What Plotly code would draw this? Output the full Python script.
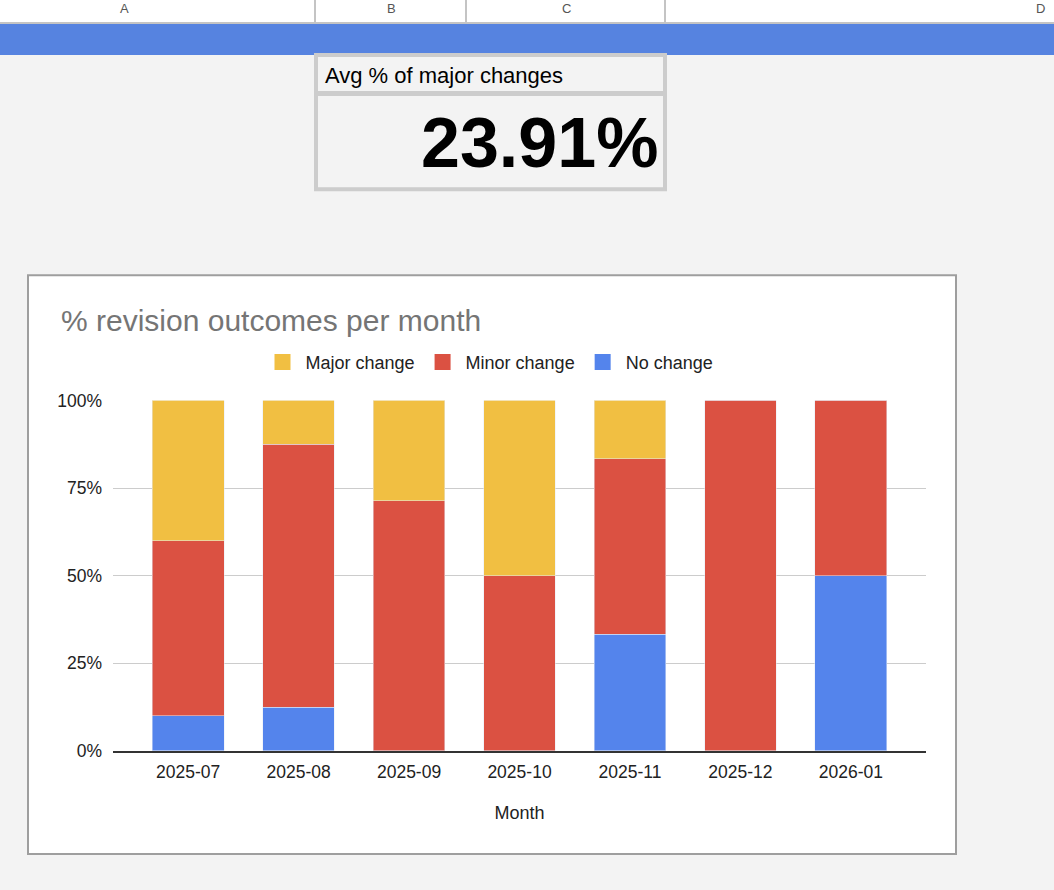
import plotly.graph_objects as go

# data
months = ['2025-07', '2025-08', '2025-09', '2025-10', '2025-11', '2025-12', '2026-01']
no_change = [0.10, 0.125, 0.0, 0.0, 0.3333, 0.0, 0.50]
minor_change = [0.50, 0.75, 0.7143, 0.50, 0.50, 1.0, 0.50]
major_change = [0.40, 0.125, 0.2857, 0.50, 0.1667, 0.0, 0.0]
y_ticks = [0, 0.25, 0.5, 0.75, 1.0]
kpi_label = 'Avg % of major changes'
kpi_value = '23.91%'
col_letters = ['A', 'B', 'C', 'D']

# the snapshot comes out squeezed vertically (~0.977) and the page starts ~10px down,
# so layout is done in window pixels and mapped back through that
SQ = 0.977
TOP = 10
FW = 1054
FH = round(890 / SQ)
FONT = 'Liberation Sans, Arial, sans-serif'
BLUE, RED, YELLOW = '#5484ec', '#db5142', '#f1bf42'


def fx(x):
    return x / FW


def fy(y):
    return 1 - (y / SQ) / FH


fig = go.Figure()
series = [('No change', no_change, BLUE), ('Minor change', minor_change, RED),
          ('Major change', major_change, YELLOW)]
for name, vals, col in series:
    fig.add_trace(go.Bar(x=months, y=vals, name=name, marker_color=col,
                         showlegend=False))
# legend entries with bigger square swatches
for name, vals, col in series:
    fig.add_trace(go.Scatter(x=[None], y=[None], mode='markers', name=name,
                             marker=dict(symbol='square', size=16, color=col)))

P = dict(xref='paper', yref='paper')
shapes = [
    # column header strip
    dict(type='rect', x0=fx(0), x1=fx(1054), y0=fy(0), y1=fy(23),
         fillcolor='white', line_width=0, **P),
    dict(type='line', x0=fx(0), x1=fx(1054), y0=fy(23), y1=fy(23),
         line=dict(color='#c4c4c4', width=2), **P),
    # blue row
    dict(type='rect', x0=fx(0), x1=fx(1054), y0=fy(24), y1=fy(55),
         fillcolor='#5683e0', line_width=0, **P),
    # kpi cell box
    dict(type='rect', x0=fx(316), x1=fx(665), y0=fy(55), y1=fy(189),
         fillcolor='#f3f3f3', line=dict(color='#cccccc', width=4), **P),
    dict(type='line', x0=fx(316), x1=fx(665), y0=fy(93.5), y1=fy(93.5),
         line=dict(color='#cccccc', width=5), **P),
    # chart box
    dict(type='rect', x0=fx(28), x1=fx(956), y0=fy(275), y1=fy(853),
         fillcolor='white', line=dict(color='#9e9e9e', width=2), layer='below', **P),
]
for cx in [315, 466, 665]:
    shapes.append(dict(type='line', x0=fx(cx), x1=fx(cx), y0=fy(0), y1=fy(22),
                       line=dict(color='#c4c4c4', width=2), **P))

annotations = []
for letter, cx in zip(col_letters, [124, 391, 566, 1040]):
    annotations.append(dict(text=letter, x=fx(cx), y=fy(8), xanchor='center',
                            yanchor='middle', showarrow=False,
                            font=dict(family=FONT, size=13, color='#555555'), **P))
annotations += [
    dict(text=kpi_label, x=fx(323), y=fy(75), xanchor='left', yanchor='middle',
         showarrow=False, font=dict(family=FONT, size=22, color='black'), **P),
    dict(text='<b>' + kpi_value + '</b>', x=fx(660), y=fy(143), xanchor='right',
         yanchor='middle', showarrow=False,
         font=dict(family=FONT, size=70, color='black'), **P),
    dict(text='% revision outcomes per month', x=fx(59), y=fy(320), xanchor='left',
         yanchor='middle', showarrow=False,
         font=dict(family=FONT, size=30, color='#757575'), **P),
]

fig.update_layout(
    width=FW, height=FH, autosize=False,
    margin=dict(l=0, r=0, t=0, b=0),
    paper_bgcolor='#f3f3f3', plot_bgcolor='white',
    barmode='stack', bargap=0.35,
    font=dict(family=FONT, size=17.5, color='#222222'),
    shapes=shapes, annotations=annotations,
    legend=dict(orientation='h', traceorder='reversed', x=fx(489), xanchor='center',
                y=fy(362), yanchor='middle', font=dict(size=18, color='#222222'),
                bgcolor='rgba(0,0,0,0)', itemclick=False, itemwidth=36),
    xaxis=dict(type='category', domain=[fx(113), fx(926)], range=[-0.68, 6.68],
               showgrid=False, showline=True, linecolor='#333333', linewidth=1.5, ticks='',
               ticklabelstandoff=4,
               title=dict(text='Month', font=dict(size=18), standoff=26)),
    yaxis=dict(domain=[fy(750), fy(400)], range=[0, 1], tickvals=y_ticks,
               tickformat='.0%', gridcolor='#cccccc', showline=False, zeroline=False,
               ticklabelstandoff=10),
)

# pull the figure up to the very top of the window
page_css = "document.body.style.margin='-%dpx 0 0 0';" % TOP
fig.write_html('out.html', config={'displayModeBar': False}, post_script=page_css)
